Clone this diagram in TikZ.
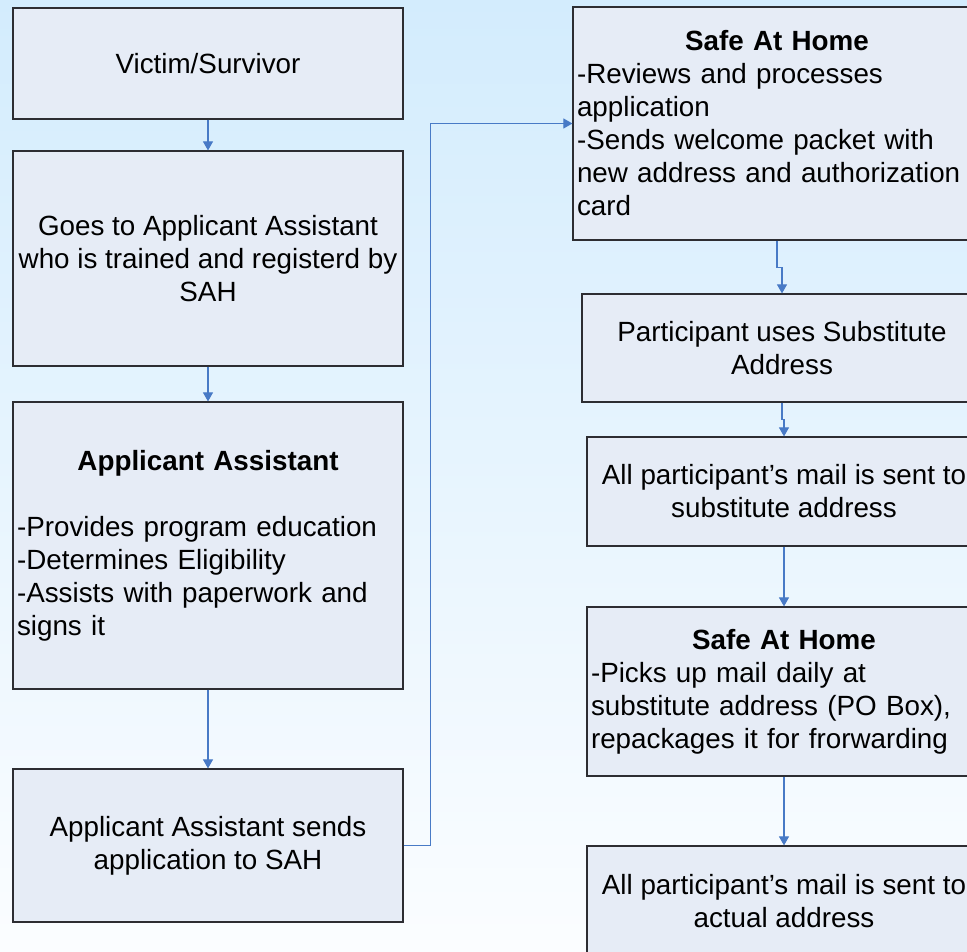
\documentclass[tikz,border=0pt]{standalone}
\usepackage{fontspec}
\setmainfont{Liberation Sans}
\usetikzlibrary{arrows.meta,calc}
\definecolor{bgtop}{RGB}{211,236,253}
\definecolor{bgbot}{RGB}{251,253,255}
\definecolor{boxfill}{RGB}{230,236,246}
\definecolor{boxline}{RGB}{45,45,50}
\definecolor{arrowblue}{RGB}{72,122,198}
\begin{document}
\begin{tikzpicture}[x=1pt,y=-1pt,
  box/.style={draw=boxline, fill=boxfill, line width=1.2pt, rectangle,
    inner xsep=4pt, inner ysep=0pt, font=\fontsize{27.8}{33}\selectfont},
  cbox/.style={box, align=center},
  lbox/.style={box, align=left},
  arr/.style={draw=arrowblue, line width=1.1pt, -{Triangle[length=9pt,width=10pt]}}]
\useasboundingbox (0,0) rectangle (967,951);
\clip (0,0) rectangle (967,951);
\shade[top color=bgtop, bottom color=bgbot] (0,0) rectangle (967,951);

% left column
\node[cbox, minimum width=390pt, minimum height=111pt] (b1) at (208,63.5) {Victim/Survivor};
\node[cbox, minimum width=390pt, minimum height=215pt] (b2) at (208,258.5)
  {Goes to Applicant Assistant\\who is trained and registerd by\\SAH};
\node[lbox, text width=382pt, minimum width=390pt, minimum height=287pt] (b3) at (208,545.5)
  {{\centering\bfseries Applicant Assistant\par}\vspace{33pt}%
   -Provides program education\\-Determines Eligibility\\-Assists with paperwork and\\signs it\par\vspace*{23pt}};
\node[cbox, minimum width=390pt, minimum height=153pt] (b4) at (208,845.5)
  {Applicant Assistant sends\\application to SAH};

% right column
\node[lbox, text width=400pt, minimum width=408pt, minimum height=233pt] (r1) at (777,123.5)
  {{\centering\bfseries Safe At Home\par}%
   -Reviews and processes\\application\\-Sends welcome packet with\\new address and authorization\\card};
\node[cbox, minimum width=400pt, minimum height=108pt] (r2) at (782,348)
  {Participant uses Substitute\\Address};
\node[cbox, minimum width=394pt, minimum height=109pt] (r3) at (784,491.5)
  {All participant’s mail is sent to\\substitute address};
\node[lbox, text width=386pt, minimum width=394pt, minimum height=169pt] (r4) at (784,691.5)
  {{\centering\bfseries Safe At Home\par}%
   -Picks up mail daily at\\substitute address (PO Box),\\repackages it for frorwarding};
\node[cbox, minimum width=394pt, minimum height=110pt] (r5) at (784,901)
  {All participant’s mail is sent to\\actual address};

% connectors
\draw[arr] (b1.south) -- (b2.north);
\draw[arr] (b2.south) -- (b3.north);
\draw[arr] (b3.south) -- (b4.north);
\draw[arr] (b4.east) -- ++(27,0) |- (r1.west);
\draw[arr] (r1.south) -- ++(0,27) -| (r2.north);
\draw[arr] (r2.south) -- ++(0,17) -| (r3.north);
\draw[arr] (r3.south) -- (r4.north);
\draw[arr] (r4.south) -- (r5.north);
\end{tikzpicture}
\end{document}
